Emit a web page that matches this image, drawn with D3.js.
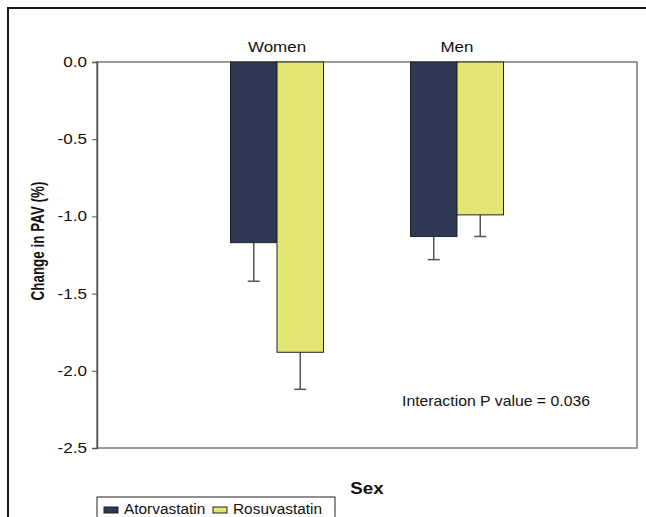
<!DOCTYPE html>
<html>
<head>
	<meta charset="utf-8" />
	<title>Change in PAV by sex</title>
	<script src="https://d3js.org/d3.v7.min.js"></script>
	<style>
		body { margin: 0; background: #fff; }
		text { font-family: "Liberation Sans", Arial, sans-serif; fill: #111; }
	</style>
</head>
<body>
<script>
var categories = ["Women", "Men"];
var series = ["Atorvastatin", "Rosuvastatin"];
var atorvastatin = [-1.17, -1.13];
var rosuvastatin = [-1.88, -0.99];
var atorvastatinErr = [0.25, 0.15];
var rosuvastatinErr = [0.24, 0.14];
var yTicks = [0.0, -0.5, -1.0, -1.5, -2.0, -2.5];
var colors = ["#2f3856", "#e3e673"];

var W = 646, H = 517;
var plot = { left: 97, right: 637, top: 62, bottom: 448 };

var svg = d3.select("body").append("svg")
			.attr("width", W)
			.attr("height", H);

// stretch text horizontally (reference glyphs look wider than normal)
function stretch(sel, k) {
	sel.each(function () {
		var len = this.getComputedTextLength();
		d3.select(this)
			.attr("textLength", len * k)
			.attr("lengthAdjust", "spacingAndGlyphs");
	});
}

// outer frame (top and left edges only visible)
svg.append("path")
	.attr("d", "M8," + H + "V8H" + W)
	.attr("fill", "none")
	.attr("stroke", "#1a1a1a")
	.attr("stroke-width", 2);

var x = d3.scalePoint()
			.domain(categories)
			.range([plot.left, plot.right])
			.padding(1);

var barW = 46.5;
var xs = d3.scaleBand()
			.domain(series)
			.range([-barW, barW]);

var y = d3.scaleLinear()
			.domain([0, -2.5])
			.range([plot.top, plot.bottom]);

// plot frame
svg.append("rect")
	.attr("x", plot.left)
	.attr("y", plot.top)
	.attr("width", plot.right - plot.left)
	.attr("height", plot.bottom - plot.top)
	.attr("fill", "#fff")
	.attr("stroke", "#7a7a7a")
	.attr("stroke-width", 1.5);

// y axis
var yAxis = svg.append("g")
			.attr("transform", "translate(" + plot.left + ",0)")
			.call(d3.axisLeft(y)
				.tickValues(yTicks)
				.tickFormat(function (d) { return d.toFixed(1); })
				.tickSize(5)
				.tickPadding(5));
yAxis.select(".domain").attr("stroke", "#555").attr("stroke-width", 1.5);
yAxis.selectAll(".tick line").attr("stroke", "#555");
yAxis.selectAll(".tick text")
	.attr("font-size", 14)
	.attr("font-family", "Liberation Sans, Arial, sans-serif")
	.attr("fill", "#111")
	.call(stretch, 1.22);

// bars
var rows = [];
categories.forEach(function (c, i) {
	rows.push({ cat: c, s: series[0], v: atorvastatin[i], e: atorvastatinErr[i], col: colors[0] });
	rows.push({ cat: c, s: series[1], v: rosuvastatin[i], e: rosuvastatinErr[i], col: colors[1] });
});

var bars = svg.append("g").selectAll("g")
			.data(rows)
			.enter()
			.append("g")
			.attr("transform", function (d) { return "translate(" + (x(d.cat) + xs(d.s)) + ",0)"; });

// error bars (downward only)
bars.append("line")
	.attr("x1", xs.bandwidth() / 2)
	.attr("x2", xs.bandwidth() / 2)
	.attr("y1", function (d) { return y(d.v); })
	.attr("y2", function (d) { return y(d.v - d.e); })
	.attr("stroke", "#555")
	.attr("stroke-width", 1.5);
bars.append("line")
	.attr("x1", xs.bandwidth() / 2 - 6)
	.attr("x2", xs.bandwidth() / 2 + 6)
	.attr("y1", function (d) { return y(d.v - d.e); })
	.attr("y2", function (d) { return y(d.v - d.e); })
	.attr("stroke", "#555")
	.attr("stroke-width", 1.5);

bars.append("rect")
	.attr("x", 0)
	.attr("y", y(0))
	.attr("width", xs.bandwidth())
	.attr("height", function (d) { return y(d.v) - y(0); })
	.attr("fill", function (d) { return d.col; })
	.attr("stroke", "#222")
	.attr("stroke-width", 1);

// category labels above plot
svg.append("g").selectAll("text")
	.data(categories)
	.enter()
	.append("text")
	.attr("x", function (d) { return x(d); })
	.attr("y", 52)
	.attr("text-anchor", "middle")
	.attr("font-size", 14.5)
	.text(function (d) { return d; })
	.call(stretch, 1.17);

// axis titles
svg.append("text")
	.attr("transform", "translate(44," + ((plot.top + plot.bottom) / 2 - 14) + ") rotate(-90)")
	.attr("text-anchor", "middle")
	.attr("font-size", 19)
	.attr("font-weight", "bold")
	.text("Change in PAV (%)")
	.attr("textLength", 119)
	.attr("lengthAdjust", "spacingAndGlyphs");

svg.append("text")
	.attr("x", (plot.left + plot.right) / 2)
	.attr("y", 494)
	.attr("text-anchor", "middle")
	.attr("font-size", 17)
	.attr("font-weight", "bold")
	.text("Sex")
	.call(stretch, 1.1);

svg.append("text")
	.attr("x", 402)
	.attr("y", 406)
	.attr("font-size", 14.5)
	.text("Interaction P value = 0.036")
	.attr("textLength", 188)
	.attr("lengthAdjust", "spacingAndGlyphs");

// legend
var legend = svg.append("g").attr("transform", "translate(97,497)");
legend.append("rect")
	.attr("x", 0).attr("y", 0)
	.attr("width", 238).attr("height", 30)
	.attr("fill", "#fff")
	.attr("stroke", "#222")
	.attr("stroke-width", 1);

var legX = [7, 116];
var items = legend.selectAll("g.item")
			.data(series)
			.enter()
			.append("g")
			.attr("transform", function (d, i) { return "translate(" + legX[i] + ",0)"; });
items.append("rect")
	.attr("x", 0).attr("y", 10)
	.attr("width", 14).attr("height", 6)
	.attr("fill", function (d, i) { return colors[i]; })
	.attr("stroke", "#222")
	.attr("stroke-width", 1);
items.append("text")
	.attr("x", 20)
	.attr("y", 17)
	.attr("font-size", 14)
	.text(function (d) { return d; })
	.call(stretch, 1.1);
</script>
</body>
</html>
